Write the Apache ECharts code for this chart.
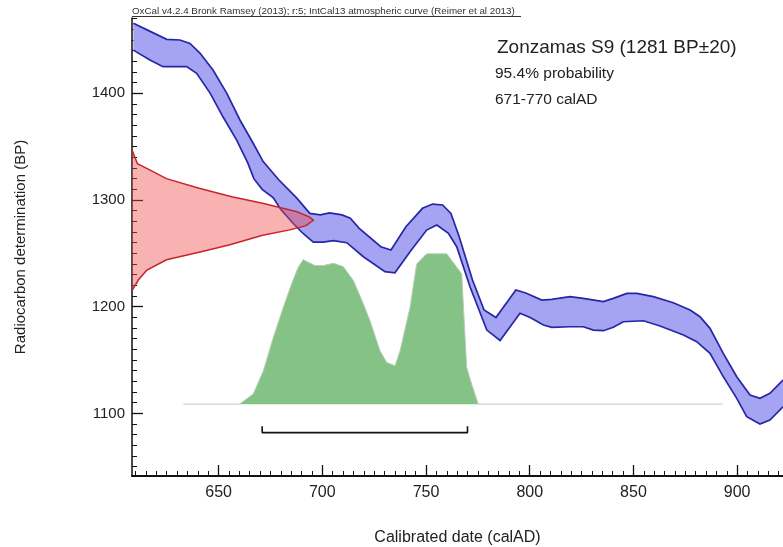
<!DOCTYPE html>
<html><head><meta charset="utf-8">
<script src="https://cdn.jsdelivr.net/npm/echarts@6/dist/echarts.min.js"></script>
<style>html,body{margin:0;padding:0;background:#fff}#c{width:783px;height:547px}</style>
</head><body><div id="c"></div>
<script>
// ---- data ----
const xTickLabels = [650, 700, 750, 800, 850, 900];
const yTickLabels = [1100, 1200, 1300, 1400];
// IntCal13 calibration band, upper edge [calAD, BP]
const curveUpper = [[608.9,1465.6],[616,1459],[625,1450.6],[631.4,1450],[636.2,1446.8],[641,1437.7],[647.3,1421.8],[653.9,1400.2],[660.3,1375],[666.6,1353.4],[671.5,1336],[679,1319],[687.6,1302],[694,1287.5],[699,1286],[703.5,1288],[709.5,1286],[713.5,1283],[717.8,1273.4],[728.2,1256.2],[733.1,1253.1],[740.3,1275],[748.3,1292.2],[753.2,1296.2],[758,1295.3],[762,1287.5],[766,1265.6],[772.4,1225],[778,1196.9],[783.7,1189.8],[793.3,1215.6],[798.1,1212.8],[805.8,1206.2],[810.6,1206.9],[819.4,1209.4],[825.8,1207.8],[835.5,1204.7],[840.3,1207.8],[846.8,1212.5],[851.6,1212.5],[859.6,1209.4],[869.2,1203.7],[877.3,1196.9],[882.1,1190.6],[886.9,1179.7],[893.3,1156.3],[899.8,1134.4],[906.2,1117.2],[911,1114.1],[915.8,1118.8],[922.1,1131.3]];
// lower edge [calAD, BP]
const curveLower = [[608.9,1440.5],[616.9,1431.2],[623.2,1425],[634.6,1425],[639.4,1418.7],[645.9,1400.2],[652.1,1378],[658.7,1356.2],[664,1335],[667,1320],[671,1310],[676.4,1302],[680,1291],[686,1278],[690,1270],[692.5,1265.6],[695.7,1260.5],[700.5,1260.5],[705.3,1262],[711.8,1260],[719.8,1246.8],[730.2,1232.8],[735,1231.8],[742.3,1251.5],[750.3,1271.8],[755.2,1276.5],[760.8,1268.8],[764.8,1256.2],[771.2,1218.7],[779.3,1178.1],[785.7,1168.3],[795.3,1193.8],[800.2,1189.8],[806.6,1182.8],[810.6,1180.7],[819.4,1181.2],[825.8,1181.2],[830.7,1178.1],[835.5,1177.5],[840.3,1180.7],[845.1,1185.9],[854.8,1186.8],[862.8,1181.9],[874.1,1173.4],[880.5,1167.2],[886.9,1156.3],[893.3,1134.4],[899.8,1114.1],[904.6,1096.9],[911,1090],[915.8,1093.8],[922.1,1106.2]];
// radiocarbon measurement distribution [BP, relative probability]
const measuredBP   = [1215, 1225, 1234, 1244, 1251, 1258, 1267, 1272, 1276, 1281, 1284, 1289, 1297, 1303, 1311, 1320, 1328, 1334, 1347];
const measuredProb = [0.0, 0.035, 0.08, 0.19, 0.37, 0.54, 0.72, 0.87, 0.96, 1.0, 0.98, 0.91, 0.72, 0.55, 0.37, 0.19, 0.10, 0.03, 0.0];
// calibrated distribution [calAD, relative probability]
const calibratedAD   = [633, 660, 666.7, 671.6, 676.4, 681.2, 685.2, 688.4, 690.8, 693.2, 696.5, 700.5, 705.3, 710.1, 715, 719.8, 723, 727.8, 731.1, 735.1, 737.5, 742.3, 745.5, 750.3, 760, 764.8, 767.2, 769.6, 772, 775.2, 893];
const calibratedProb = [0, 0, 0.067, 0.222, 0.444, 0.644, 0.80, 0.911, 0.962, 0.944, 0.922, 0.922, 0.937, 0.915, 0.822, 0.667, 0.555, 0.355, 0.277, 0.255, 0.355, 0.644, 0.933, 1.0, 1.0, 0.911, 0.867, 0.244, 0.133, 0, 0];
const range95 = [671, 770];
const headerText = 'OxCal v4.2.4 Bronk Ramsey (2013); r:5; IntCal13 atmospheric curve (Reimer et al 2013)';
const sampleText = 'Zonzamas S9 (1281 BP±20)';
const probText = '95.4% probability';
const rangeText = '671-770 calAD';

// ---- layout ----
const FONT = '"Liberation Sans", Arial, sans-serif';
const X_MIN = 608.25, X_MAX = 922.1;
const Y_MIN = 1041.3, Y_MAX = 1470.6;
const BRACKET_Y = 1082, BRACKET_TOP = 1088;
const xMinor = []; for (let v = 610; v <= 920; v += 5) xMinor.push(v);
const yMinor = []; for (let v = 1050; v <= 1470; v += 10) yMinor.push(v);
const plain = v => String(v);

const measuredDist = measuredBP.map((b, i) => [measuredProb[i], b]);
const calibratedDist = calibratedAD.map((a, i) => [a, calibratedProb[i]]);

const chart = echarts.init(document.getElementById('c'), null, {renderer: 'canvas'});
chart.setOption({
  animation: false,
  backgroundColor: '#fff',
  grid: {left: 132, top: 18, right: 0, bottom: 71, containLabel: false, outerBoundsMode: 'none'},
  xAxis: [
    {type: 'value', min: X_MIN, max: X_MAX, position: 'bottom',
     axisLine: {show: true, onZero: false, lineStyle: {color: '#111', width: 2}},
     axisTick: {show: true, inside: true, length: 11, customValues: xTickLabels, lineStyle: {color: '#111', width: 1.3}},
     axisLabel: {customValues: xTickLabels, formatter: plain, margin: 9, fontSize: 16, color: '#222', fontFamily: FONT},
     splitLine: {show: false},
     name: 'Calibrated date (calAD)', nameLocation: 'middle', nameGap: 54,
     nameTextStyle: {fontSize: 16, color: '#222', fontFamily: FONT}},
    {type: 'value', min: X_MIN, max: X_MAX, position: 'bottom',
     axisLine: {show: false, onZero: false}, axisTick: {show: true, inside: true, length: 5, customValues: xMinor, lineStyle: {color: '#111', width: 1}},
     axisLabel: {show: false}, splitLine: {show: false}},
    {type: 'value', min: 0, max: 3.59, show: false, position: 'bottom', axisLine: {onZero: false}}
  ],
  yAxis: [
    {type: 'value', min: Y_MIN, max: Y_MAX, position: 'left',
     axisLine: {show: true, onZero: false, lineStyle: {color: '#111', width: 1.5}},
     axisTick: {show: true, inside: true, length: 11, customValues: yTickLabels, lineStyle: {color: '#111', width: 1.3}},
     axisLabel: {customValues: yTickLabels, formatter: plain, margin: 7, fontSize: 15, color: '#222', fontFamily: FONT},
     splitLine: {show: false},
     name: 'Radiocarbon determination (BP)', nameLocation: 'middle', nameGap: 104,
     nameTextStyle: {fontSize: 15, color: '#222', fontFamily: FONT}},
    {type: 'value', min: Y_MIN, max: Y_MAX, position: 'left',
     axisLine: {show: false, onZero: false}, axisTick: {show: true, inside: true, length: 5, customValues: yMinor, lineStyle: {color: '#111', width: 1}},
     axisLabel: {show: false}, splitLine: {show: false}},
    {type: 'value', min: -0.478, max: 2.569, show: false, position: 'left', axisLine: {onZero: false}}
  ],
  series: [
    {type: 'line', name: 'calibrated', xAxisIndex: 0, yAxisIndex: 2, data: calibratedDist,
     showSymbol: false, symbol: 'none', z: 2,
     lineStyle: {color: '#b9ccb9', width: 1},
     areaStyle: {color: '#85c285', opacity: 1}},
    {type: 'custom', name: 'band', coordinateSystem: 'cartesian2d', xAxisIndex: 0, yAxisIndex: 0,
     data: [[700, 1300]], silent: true, z: 3,
     renderItem: function (params, api) {
       const up = curveUpper.map(p => api.coord(p));
       const lo = curveLower.map(p => api.coord(p));
       return {type: 'group', children: [
         {type: 'polygon', shape: {points: up.concat(lo.slice().reverse())}, style: {fill: '#a4a4f2'}},
         {type: 'polyline', shape: {points: up}, style: {stroke: '#2626a6', lineWidth: 1.7, fill: null}},
         {type: 'polyline', shape: {points: lo}, style: {stroke: '#2626a6', lineWidth: 1.7, fill: null}}
       ]};
     }},
    {type: 'custom', name: 'measured', coordinateSystem: 'cartesian2d', xAxisIndex: 2, yAxisIndex: 0,
     data: [[0.5, 1281]], silent: true, z: 4,
     renderItem: function (params, api) {
       const pts = measuredDist.map(p => api.coord(p));
       return {type: 'group', children: [
         {type: 'polygon', shape: {points: pts}, style: {fill: 'rgba(240,72,72,0.42)'}},
         {type: 'polyline', shape: {points: pts}, style: {stroke: '#c4262c', lineWidth: 1.5, fill: null}}
       ]};
     }},
    {type: 'line', name: 'range', xAxisIndex: 0, yAxisIndex: 0, showSymbol: false, symbol: 'none', z: 5,
     data: [[range95[0], BRACKET_TOP], [range95[0], BRACKET_Y], [range95[1], BRACKET_Y], [range95[1], BRACKET_TOP]],
     lineStyle: {color: '#111', width: 1.6}}
  ],
  graphic: [
    {type: 'text', x: 132, y: 11.5, silent: true,
     style: {text: headerText, fontSize: 9.8, fontFamily: FONT, fill: '#333', verticalAlign: 'middle', align: 'left'}},
    {type: 'line', silent: true, shape: {x1: 132, y1: 16.5, x2: 521, y2: 16.5}, style: {stroke: '#333', lineWidth: 1}},
    {type: 'text', x: 497, y: 48, silent: true,
     style: {text: sampleText, fontSize: 19, fontFamily: FONT, fill: '#222', verticalAlign: 'middle', align: 'left'}},
    {type: 'text', x: 495, y: 74, silent: true,
     style: {text: probText, fontSize: 15.5, fontFamily: FONT, fill: '#222', verticalAlign: 'middle', align: 'left'}},
    {type: 'text', x: 495, y: 99.5, silent: true,
     style: {text: rangeText, fontSize: 15.5, fontFamily: FONT, fill: '#222', verticalAlign: 'middle', align: 'left'}}
  ]
});
</script>
</body></html>
